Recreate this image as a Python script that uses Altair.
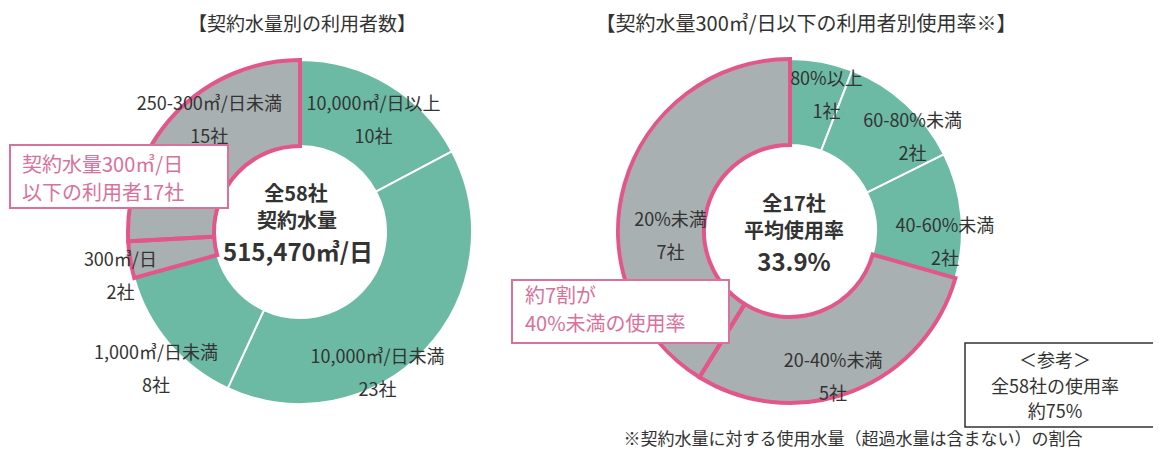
import altair as alt
import pandas as pd

# ---------------- data ----------------
L_CATS = ["10,000㎥/日以上", "10,000㎥/日未満", "1,000㎥/日未満", "300㎥/日", "250-300㎥/日未満"]
L_VALS = [10, 23, 8, 2, 15]
L_GRP = ["other", "other", "other", "hl", "hl"]

R_CATS = ["80%以上", "60-80%未満", "40-60%未満", "20-40%未満", "20%未満"]
R_VALS = [1, 2, 2, 5, 7]
R_GRP = ["other", "other", "other", "hl", "hl"]

UNIT = "社"

L_TITLE = "【契約水量別の利用者数】"
R_TITLE = "【契約水量300㎥/日以下の利用者別使用率※】"
L_CENTER = ["全58社", "契約水量", "515,470㎥/日"]
R_CENTER = ["全17社", "平均使用率", "33.9%"]
L_NOTE = ["契約水量300㎥/日", "以下の利用者17社"]
R_NOTE = ["約7割が", "40%未満の使用率"]
REF_NOTE = ["＜参考＞", "全58社の使用率", "約75%"]
FOOTNOTE = "※契約水量に対する使用水量（超過水量は含まない）の割合"

# ---------------- layout / style ----------------
L_LABEL_R = [147, 148, 189, 182, 156]
L_LABEL_ADJ = [-1, 15, 0, 0, 11]
R_LABEL_R = [155, 164, 155, 138, 120]
R_LABEL_ADJ = [3, 6, 4, 3, -11]

FONT = "Noto Sans CJK JP"
GREEN = "#6cbaa3"
GRAY = "#a9b0b2"
PINK = "#e3568a"
PINK_TXT = "#d9719c"
TXT = "#333333"
W, H = 1145, 445
LCX, LCY = 292, 224
RCX, RCY = 782, 223
R_IN, R_OUT = 86, 172


def donut(cats, vals, grp, lr, adj, cx, cy):
    df = pd.DataFrame({
        "cat": cats, "v": vals, "grp": grp, "order": list(range(len(vals))),
        "lr": lr, "adj": adj,
        "label": [f"{c}\n{v}{UNIT}" for c, v in zip(cats, vals)],
    })
    base = alt.Chart(df)
    theta = alt.Theta("v:Q", stack=True)
    order = alt.Order("order:Q")
    arcs = base.mark_arc(innerRadius=R_IN, outerRadius=R_OUT, stroke="white", strokeWidth=2).encode(
        theta=theta, order=order, x=alt.value(cx), y=alt.value(cy),
        fill=alt.Fill("grp:N", scale=alt.Scale(domain=["other", "hl"], range=[GREEN, GRAY]), legend=None),
    )
    outline = base.mark_arc(innerRadius=R_IN, outerRadius=R_OUT, fillOpacity=0, strokeWidth=4,
                            strokeJoin="miter").encode(
        theta=theta, order=order, x=alt.value(cx), y=alt.value(cy),
        stroke=alt.condition("datum.grp == 'hl'", alt.value(PINK), alt.value("transparent")),
    )
    labels = base.transform_window(
        cum="sum(v)", sort=[alt.SortField("order")], frame=[None, 0]
    ).transform_joinaggregate(total="sum(v)").transform_calculate(
        ang="(datum.cum - datum.v / 2) / datum.total * 2 * PI + datum.adj * PI / 180"
    ).mark_text(font=FONT, fontSize=18, lineBreak="\n", lineHeight=33, color=TXT).encode(
        theta=alt.Theta("ang:Q", scale=None, stack=False),
        radius=alt.Radius("lr:Q", scale=None),
        x=alt.value(cx), y=alt.value(cy),
        text="label:N",
    )
    return alt.layer(arcs, outline, labels)


def txt(t, x, y, size, color=TXT, weight="normal", align="center"):
    return alt.Chart(pd.DataFrame({"t": [t]})).mark_text(
        font=FONT, fontSize=size, color=color, fontWeight=weight, align=align, baseline="middle"
    ).encode(text="t:N", x=alt.value(x), y=alt.value(y))


def box(x1, x2, y1, y2, stroke, sw):
    return alt.Chart(pd.DataFrame({"a": [0]})).mark_rect(
        fill="white", stroke=stroke, strokeWidth=sw
    ).encode(x=alt.value(x1), x2=alt.value(x2), y=alt.value(y1), y2=alt.value(y2))


layers = [
    donut(L_CATS, L_VALS, L_GRP, L_LABEL_R, L_LABEL_ADJ, LCX, LCY),
    donut(R_CATS, R_VALS, R_GRP, R_LABEL_R, R_LABEL_ADJ, RCX, RCY),
    txt(L_TITLE, 294, 17, 19),
    txt(R_TITLE, 798, 17, 20),
    txt(L_CENTER[0], 288, 187, 20, weight="bold"),
    txt(L_CENTER[1], 289, 214, 20, weight="bold"),
    txt(L_CENTER[2], 290, 246, 24, weight="bold"),
    txt(R_CENTER[0], 786, 197, 20, weight="bold"),
    txt(R_CENTER[1], 786, 224, 20, weight="bold"),
    txt(R_CENTER[2], 786, 256, 24, weight="bold"),
    box(2, 220, 137, 200, PINK_TXT, 2),
    txt(L_NOTE[0], 14, 158, 20, color=PINK_TXT, align="left"),
    txt(L_NOTE[1], 14, 186, 20, color=PINK_TXT, align="left"),
    box(504, 721, 272, 335, PINK_TXT, 2),
    txt(R_NOTE[0], 517, 289, 20, color=PINK_TXT, align="left"),
    txt(R_NOTE[1], 517, 317, 20, color=PINK_TXT, align="left"),
    box(957, 1160, 335, 419, "#333333", 1.5),
    txt(REF_NOTE[0], 1047, 354, 18),
    txt(REF_NOTE[1], 1047, 380, 18),
    txt(REF_NOTE[2], 1047, 405, 18),
    txt(FOOTNOTE, 845, 432, 17),
]

chart = alt.layer(*layers).properties(
    width=W, height=H, padding=0, autosize="none"
).resolve_scale(theta="independent").configure_view(strokeWidth=0)

chart.save("out.html", embed_options={"renderer": "svg", "actions": False})
